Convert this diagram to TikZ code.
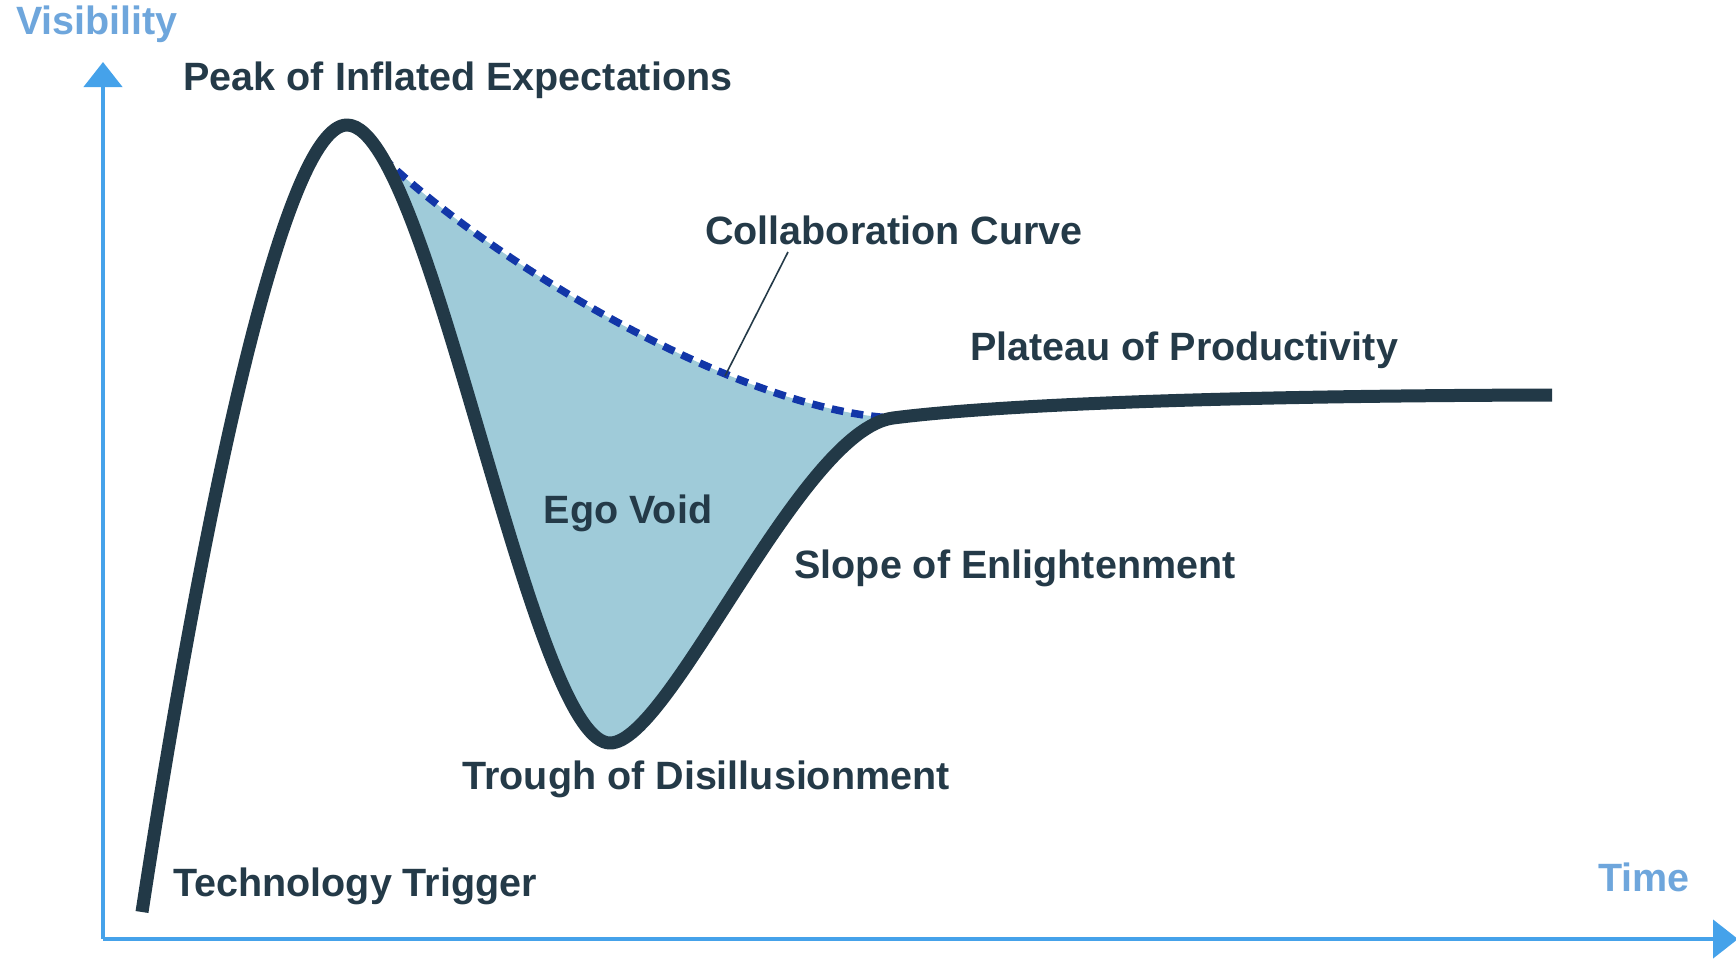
\documentclass[tikz,border=0pt]{standalone}
\usepackage{fontspec}
\setmainfont{Liberation Sans}
\usetikzlibrary{arrows.meta}
\definecolor{ink}{HTML}{243A48}
\definecolor{curve}{HTML}{223947}
\definecolor{voidfill}{HTML}{9FCBD9}
\definecolor{dashblue}{HTML}{1236A8}
\definecolor{axisblue}{HTML}{45A2EA}
\definecolor{axistext}{HTML}{6EA6DC}
\tikzset{
  lbl/.style={inner sep=0pt, text=ink, font=\fontsize{39.5}{46}\selectfont\bfseries},
  axlbl/.style={inner sep=0pt, text=axistext, font=\fontsize{39.5}{46}\selectfont\bfseries},
  axisline/.style={draw=axisblue, line width=4.5pt, -{Triangle[width=38pt,length=25pt]}},
  hype/.style={draw=curve, line width=13pt, line join=round},
  collab/.style={draw=dashblue, line width=7.5pt, dash pattern=on 12pt off 8pt},
  leader/.style={draw=ink, line width=1.6pt}
}
\begin{document}
\begin{tikzpicture}[x=1pt,y=-1pt]
\useasboundingbox (0,0) rectangle (1736,959);
% axes
\coordinate (origin) at (103,939);
\coordinate (ytip) at (103,62);
\coordinate (xtip) at (1738,939);
\draw[axisline] (origin) -- (ytip);
\draw[axisline] (origin) -- (xtip);
% key points
\coordinate (split) at (382.23,157.06);
\coordinate (junction) at (893,418);
% fill of ego void
\fill[voidfill] (split) .. controls (495,265) and (740,410) .. (junction)
  .. controls (800,430) and (670,743) .. (610,743)
  .. controls (541.04,743) and (457.22,283.80) .. (split) -- cycle;
% collaboration curve
\draw[collab] (split) .. controls (495,265) and (740,410) .. (junction);
% hype curve
\draw[hype] (142,912) .. controls (205,500) and (285,125) .. (347,125)
  .. controls (358.45,125) and (370.23,136.77) .. (split)
  .. controls (457.22,283.80) and (541.04,743) .. (610,743)
  .. controls (670,743) and (800,430) .. (junction)
  .. controls (967,408.4) and (1150,396) .. (1552,395);
% labels
\node[axlbl] (vis) at (97,24) {Visibility};
\node[axlbl] (time) at (1644,877) {Time};
\node[lbl] (peak) at (458,80) {Peak of Inflated Expectations};
\node[lbl] (collabl) at (894,230) {Collaboration Curve};
\node[lbl] (plateau) at (1184,350) {Plateau of Productivity};
\node[lbl] (ego) at (628,513) {Ego Void};
\node[lbl] (slope) at (1015,568) {Slope of Enlightenment};
\node[lbl] (trough) at (706,779) {Trough of Disillusionment};
\node[lbl] (trigger) at (355,886) {Technology Trigger};
% leader
\coordinate (lstart) at (788,252);
\coordinate (lend) at (725,376);
\draw[leader] (lstart) -- (lend);
\end{tikzpicture}
\end{document}
